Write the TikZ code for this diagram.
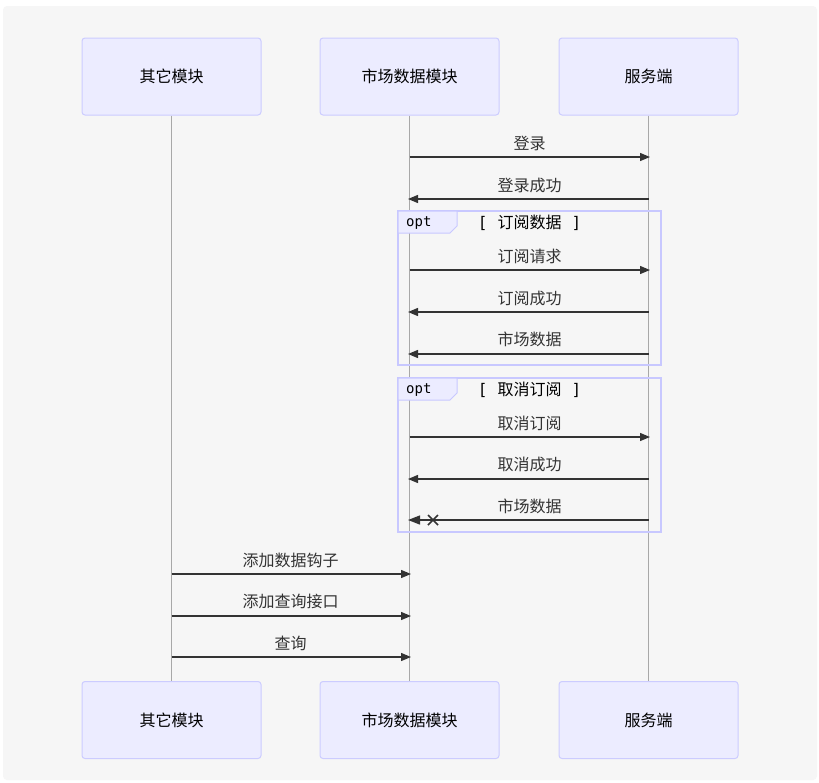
\documentclass[tikz,border=0pt]{standalone}
\usepackage{fontspec}
\setmainfont{Noto Sans CJK SC}
\newfontfamily\monof{DejaVu Sans Mono}
\usetikzlibrary{arrows.meta}
\definecolor{bgc}{HTML}{F6F6F6}
\definecolor{actfill}{HTML}{ECECFF}
\definecolor{actdraw}{HTML}{CCCCFF}
\definecolor{optdraw}{HTML}{C8C8FF}
\definecolor{linec}{HTML}{333333}
\definecolor{lifec}{HTML}{A8A8A8}
\tikzset{
  actor/.style={draw=actdraw, fill=actfill, rounded corners=3pt, line width=1pt,
    minimum width=179pt, minimum height=77pt, inner sep=0pt, font=\fontsize{16}{19}\selectfont, text=black},
  lifeline/.style={draw=lifec, line width=0.8pt},
  msg/.style={draw=linec, line width=1.3pt, -{Triangle[length=10pt,width=8pt]}, shorten >=-1.5pt},
  msglabel/.style={font=\fontsize{16}{19}\selectfont, text=linec, inner sep=0pt},
  optbox/.style={draw=optdraw, line width=2pt},
  opttab/.style={draw=optdraw, fill=actfill, line width=1pt},
  optlabel/.style={font=\monof\fontsize{14}{17}\selectfont, text=black, inner sep=0pt},
  optcond/.style={font=\fontsize{16}{19}\selectfont, text=black, inner sep=0pt}
}
\begin{document}
\begin{tikzpicture}[x=1pt,y=-1pt]
\useasboundingbox (0,0) rectangle (819,782);
\fill[white] (0,0) rectangle (819,782);
\fill[bgc, rounded corners=4pt] (3,6) rectangle (817,780);

% actors
\node[actor] (a1) at (171.5,76.5) {其它模块};
\node[actor] (a2) at (409.5,76.5) {市场数据模块};
\node[actor] (a3) at (648.5,76.5) {服务端};
\node[actor] (b1) at (171.5,720) {其它模块};
\node[actor] (b2) at (409.5,720) {市场数据模块};
\node[actor] (b3) at (648.5,720) {服务端};

% lifelines
\draw[lifeline] (a1.south) -- (b1.north);
\draw[lifeline] (a2.south) -- (b2.north);
\draw[lifeline] (a3.south) -- (b3.north);

% opt boxes
\draw[optbox] (398,211) rectangle (661,365);
\draw[opttab] (398,211) -- (457,211) -- (457,226) -- (450,233) -- (398,233) -- cycle;
\node[optlabel, anchor=west] (o1) at (406,223) {opt};
\node[optcond] (c1) at (529.5,223) {{\monof[}\hspace{10pt}订阅数据\hspace{10pt}{\monof]}};

\draw[optbox] (398,378) rectangle (661,532);
\draw[opttab] (398,378) -- (457,378) -- (457,393) -- (450,400) -- (398,400) -- cycle;
\node[optlabel, anchor=west] (o2) at (406,390) {opt};
\node[optcond] (c2) at (529.5,390) {{\monof[}\hspace{10pt}取消订阅\hspace{10pt}{\monof]}};

% messages
\draw[msg] (a2 |- 0,157) -- (a3 |- 0,157);
\node[msglabel] (l1) at (529.5,143) {登录};
\draw[msg] (a3 |- 0,199) -- (a2 |- 0,199);
\node[msglabel] (l2) at (529.5,185) {登录成功};

\draw[msg] (a2 |- 0,270) -- (a3 |- 0,270);
\node[msglabel] (l3) at (529.5,256) {订阅请求};
\draw[msg] (a3 |- 0,312) -- (a2 |- 0,312);
\node[msglabel] (l4) at (529.5,298) {订阅成功};
\draw[msg] (a3 |- 0,354) -- (a2 |- 0,354);
\node[msglabel] (l5) at (529.5,339) {市场数据};

\draw[msg] (a2 |- 0,437) -- (a3 |- 0,437);
\node[msglabel] (l6) at (529.5,423) {取消订阅};
\draw[msg] (a3 |- 0,479) -- (a2 |- 0,479);
\node[msglabel] (l7) at (529.5,464) {取消成功};
\draw[msg, -{Triangle[length=12pt,width=9pt]}] (a3 |- 0,520) -- (a2 |- 0,520);
\coordinate (xc) at (433,520);
\draw[draw=linec, line width=1.5pt] ([shift={(-5,-5)}]xc) -- ([shift={(5,5)}]xc)
  ([shift={(-5,5)}]xc) -- ([shift={(5,-5)}]xc);
\node[msglabel] (l8) at (529.5,506) {市场数据};

\draw[msg] (a1 |- 0,574) -- (a2 |- 0,574);
\node[msglabel] (l9) at (290.5,560) {添加数据钩子};
\draw[msg] (a1 |- 0,616) -- (a2 |- 0,616);
\node[msglabel] (l10) at (290.5,601) {添加查询接口};
\draw[msg] (a1 |- 0,657) -- (a2 |- 0,657);
\node[msglabel] (l11) at (290.5,643) {查询};
\end{tikzpicture}
\end{document}
